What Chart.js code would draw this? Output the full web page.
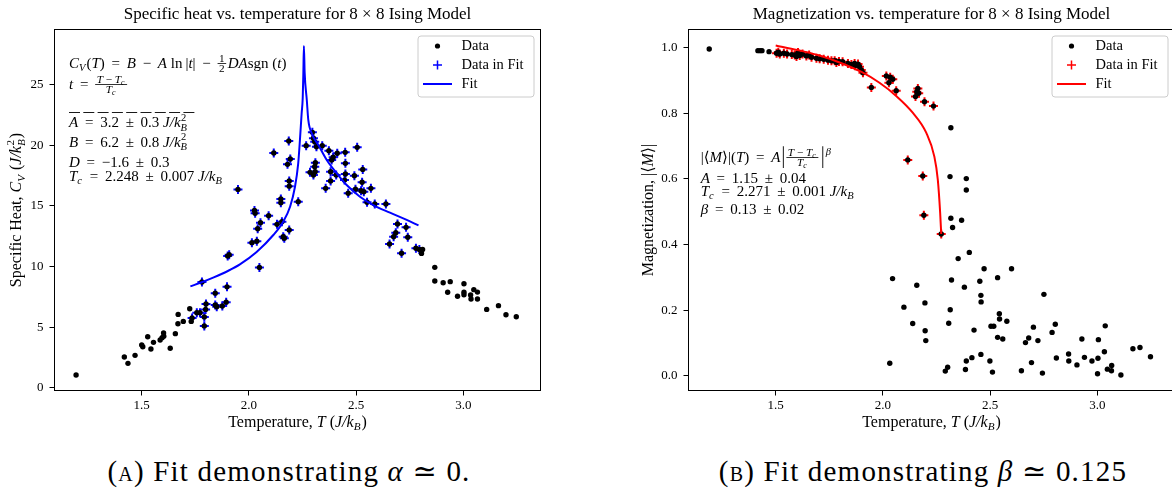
<!DOCTYPE html>
<html>
<head>
<meta charset="UTF-8">
<title>Ising model fits</title>
<script src="https://cdn.jsdelivr.net/npm/chart.js@4.4.1/dist/chart.umd.min.js"></script>
<style>
  html, body { margin: 0; padding: 0; background: #fff; }
  body { width: 1172px; height: 488px; overflow: hidden; position: relative; }
  canvas { position: absolute; top: 0; }
  #cv { left: 0; }
  #mag { left: 634px; }
  .cap { position: absolute; top: 457px; width: 600px; text-align: center;
         font-family: "Liberation Serif", "Times New Roman", "DejaVu Serif", serif;
         font-size: 29px; line-height: 29px; letter-spacing: 1.2px; color: #000; white-space: nowrap; }
  .sc { font-variant: small-caps; }
</style>
</head>
<body>
<canvas id="cv" width="594" height="440"></canvas>
<canvas id="mag" width="594" height="440"></canvas>
<div class="cap" style="left:-11px">(<span class="sc">a</span>) Fit demonstrating <i>α</i> ≃ 0.</div>
<div class="cap" style="left:623px">(<span class="sc">b</span>) Fit demonstrating <i>β</i> ≃ 0.125</div>

<script>
const SERIF = '"Liberation Serif", "DejaVu Serif", serif';
Chart.defaults.font.family = SERIF;
Chart.defaults.color = '#000';

// specific heat: points outside the fit window
const cvOutT = [1.194,1.419,1.436,1.469,1.500,1.505,1.528,1.543,1.555,1.586,
  1.595,1.602,1.603,1.633,1.657,1.670,1.669,1.694,1.724,1.731,
  2.810,2.805,2.867,2.867,2.906,2.939,2.927,2.973,3.003,3.003,
  3.003,3.034,3.036,3.049,3.066,3.066,3.109,3.164,3.199,3.247];
const cvOutC = [1.05,2.53,2.01,2.67,3.52,3.38,4.21,3.19,3.74,3.93,
  4.13,4.51,4.24,3.25,4.46,6.05,5.28,5.47,6.52,5.47,
  11.41,11.08,9.93,8.80,8.66,8.75,7.87,7.54,8.58,7.87,
  7.67,7.65,7.32,8.09,7.89,7.32,6.46,6.77,6.02,5.86];

// specific heat: points used in the fit
const cvInT = [1.735,1.757,1.772,1.781,1.792,1.792,1.798,1.800,1.843,1.843,
  1.850,1.876,1.894,1.898,1.901,1.908,1.949,2.014,2.026,2.029,
  2.037,2.041,2.049,2.054,2.092,2.116,2.131,2.149,2.149,2.154,
  2.160,2.165,2.180,2.186,2.188,2.188,2.188,2.193,2.230,2.267,
  2.285,2.296,2.301,2.301,2.307,2.307,2.310,2.309,2.315,2.342,
  2.358,2.373,2.381,2.381,2.386,2.393,2.407,2.412,2.446,2.449,
  2.450,2.450,2.463,2.492,2.497,2.505,2.523,2.528,2.531,2.536,
  2.551,2.569,2.587,2.639,2.656,2.675,2.685,2.693,2.712,2.733,
  2.741,2.779,2.795];
const cvInC = [5.75,6.19,6.19,8.72,5.84,5.10,6.46,6.90,7.80,6.82,
  6.68,6.74,7.06,8.32,10.86,10.97,16.36,11.97,14.62,14.39,
  12.08,13.12,9.92,13.61,14.19,19.36,13.48,15.57,15.26,13.70,
  12.46,12.33,18.43,20.35,17.05,16.63,13.01,18.87,15.35,19.97,
  17.77,21.07,20.58,17.55,20.30,18.23,18.56,17.82,19.88,19.97,
  16.45,19.55,17.82,17.05,18.79,19.01,17.55,19.34,17.13,19.42,
  18.51,17.63,16.04,17.49,16.37,19.83,16.25,16.95,18.01,16.17,
  15.30,16.45,15.16,15.16,11.86,12.46,12.79,13.51,11.09,13.23,
  12.41,11.50,11.40];

// specific heat fit curve
const cvFitT = [1.727,1.777,1.836,1.904,1.958,2.036,2.114,2.160,2.192,2.215,
  2.230,2.238,2.246,2.251,2.254,2.2565,2.260,2.270,2.277,2.293,
  2.324,2.363,2.410,2.456,2.518,2.580,2.658,2.736,2.791];
const cvFitC = [8.36,8.68,9.10,9.65,10.18,11.2,12.6,13.70,14.93,16.58,
  18.51,20.44,22.64,23.9,26.0,28.2,26.0,23.74,22.09,20.99,
  20.02,18.79,17.69,16.72,15.76,15.07,14.44,13.84,13.39];

// magnetization: points outside the fit window
const mOutT = [1.190,1.417,1.427,1.436,1.469,2.317,2.313,2.389,2.389,2.317,
  2.325,2.367,2.403,2.351,2.045,2.320,2.472,2.600,2.535,2.452,
  2.380,2.158,2.457,2.458,2.751,2.098,2.196,2.314,2.543,2.544,
  2.578,2.139,2.307,2.504,2.517,2.702,2.804,3.037,2.197,2.425,
  2.789,2.200,2.535,2.559,2.665,2.680,2.723,2.928,3.005,2.866,
  2.940,3.033,2.809,3.166,3.199,3.248,2.032,2.415,2.457,2.389,
  2.499,2.693,2.867,2.905,2.975,3.003,2.302,2.291,2.385,2.511,
  2.646,2.744,3.001,3.047,3.067,3.066,3.110];
const mOutM = [0.996,0.991,0.991,0.991,0.988,0.756,0.607,0.601,0.566,0.480,
  0.452,0.474,0.376,0.357,0.296,0.292,0.326,0.326,0.299,0.288,
  0.270,0.276,0.245,0.225,0.248,0.209,0.222,0.201,0.189,0.173,
  0.166,0.159,0.160,0.151,0.151,0.148,0.157,0.152,0.137,0.139,
  0.132,0.107,0.117,0.112,0.101,0.115,0.107,0.112,0.110,0.066,
  0.056,0.073,0.054,0.082,0.086,0.058,0.038,0.055,0.065,0.045,
  0.045,0.040,0.045,0.033,0.045,0.053,0.026,0.014,0.019,0.011,
  0.015,0.008,0.006,0.020,0.031,0.015,0.002];

// magnetization: points used in the fit
const mInT = [1.504,1.512,1.519,1.538,1.553,1.575,1.589,1.597,1.604,1.612,
  1.625,1.643,1.656,1.667,1.690,1.705,1.724,1.744,1.760,1.775,
  1.783,1.795,1.812,1.837,1.853,1.868,1.870,1.884,1.891,1.899,
  1.907,1.946,2.016,2.028,2.034,2.046,2.062,2.116,2.152,2.158,
  2.163,2.167,2.186,2.191,2.194,2.236,2.272];
const mInM = [0.983,0.986,0.981,0.983,0.981,0.979,0.978,0.973,0.985,0.976,
  0.981,0.975,0.978,0.971,0.968,0.966,0.965,0.962,0.960,0.960,
  0.955,0.958,0.957,0.952,0.949,0.952,0.945,0.950,0.942,0.932,
  0.924,0.879,0.914,0.893,0.910,0.904,0.869,0.658,0.851,0.866,
  0.876,0.861,0.609,0.489,0.835,0.822,0.432];

// magnetization fit curve
const mFitT = [1.500,1.600,1.700,1.798,1.900,1.984,2.062,2.139,2.202,2.240,2.256,2.267,2.272];
const mFitM = [1.007,0.993,0.977,0.955,0.926,0.893,0.853,0.802,0.741,0.668,0.598,0.497,0.432];

const tempTicks = [1.5, 2.0, 2.5, 3.0];
const cvTicks = [0, 5, 10, 15, 20, 25];
const magTicks = [0, 0.2, 0.4, 0.6, 0.8, 1.0];

function pts(xs, ys) { return xs.map((x, i) => ({x: x, y: ys[i]})); }

// operator with the wider TeX-like spacing
const op = s => ' \u2009' + s + '\u2009 ';

// tiny math text runner: ['r',txt] roman, ['i',txt] italic, ['_',txt,'i'] sub, ['^',txt,'i'] sup,
// ['_^',sub,sup], ['f',num,den] fraction, ['|'] tall bar
function mathRun(ctx, toks, x, y, size, draw) {
  let cx = x;
  toks.forEach(tk => {
    const k = tk[0];
    if (k === 'r' || k === 'i') {
      ctx.font = (k === 'i' ? 'italic ' : '') + size + 'px ' + SERIF;
      if (draw) ctx.fillText(tk[1], cx, y);
      cx += ctx.measureText(tk[1]).width;
    } else if (k === '_' || k === '^') {
      const s = size * 0.7;
      ctx.font = (tk[2] === 'i' ? 'italic ' : '') + s + 'px ' + SERIF;
      const dy = k === '_' ? size * 0.22 : -size * 0.45;
      if (draw) ctx.fillText(tk[1], cx, y + dy);
      cx += ctx.measureText(tk[1]).width + 1;
    } else if (k === '_^') {
      const s = size * 0.7;
      ctx.font = 'italic ' + s + 'px ' + SERIF;
      const w1 = ctx.measureText(tk[1]).width;
      if (draw) ctx.fillText(tk[1], cx, y + size * 0.25);
      ctx.font = s + 'px ' + SERIF;
      const w2 = ctx.measureText(tk[2]).width;
      if (draw) ctx.fillText(tk[2], cx + 0.5, y - size * 0.42);
      cx += Math.max(w1, w2) + 1;
    } else if (k === 'f') {
      const s = size * 0.75;
      const wn = mathRun(ctx, tk[1], 0, 0, s, false);
      const wd = mathRun(ctx, tk[2], 0, 0, s, false);
      const w = Math.max(wn, wd) + 3;
      const ax = y - size * 0.3;
      if (draw) {
        mathRun(ctx, tk[1], cx + (w - wn) / 2, ax - 2, s, true);
        mathRun(ctx, tk[2], cx + (w - wd) / 2, ax + s * 0.75, s, true);
        ctx.fillRect(cx, ax - 0.4, w, 0.8);
      }
      cx += w + 1.5;
    } else if (k === '|') {
      if (draw) ctx.fillRect(cx + 2.5, y - size * 1.05, 0.9, size * 1.45);
      cx += 6;
    }
  });
  return cx - x;
}

// frame, boxed legend, formula notes and axis titles
function decor(o) {
  return {
    id: 'decor',
    afterDraw(chart) {
      const ctx = chart.ctx, ca = chart.chartArea, ds = chart.data.datasets;
      ctx.save();
      ctx.strokeStyle = '#000';
      ctx.lineWidth = 1;
      ctx.strokeRect(ca.left, ca.top, ca.right - ca.left, ca.bottom - ca.top);

      const lw = 116, lh = 61, lx = ca.right - 6.5 - lw, ly = ca.top + 6.5;
      ctx.fillStyle = 'rgba(255,255,255,0.8)';
      ctx.strokeStyle = '#cccccc';
      ctx.beginPath();
      ctx.roundRect(lx, ly, lw, lh, 3);
      ctx.fill();
      ctx.stroke();
      o.legend.forEach((di, i) => {
        const d = ds[di], cy = ly + 10 + 19 * i, mx = lx + 19.5;
        if (d.showLine) {
          ctx.strokeStyle = d.borderColor; ctx.lineWidth = 2;
          ctx.beginPath(); ctx.moveTo(mx - 14.5, cy); ctx.lineTo(mx + 14.5, cy); ctx.stroke();
        } else if (d.pointStyle === 'cross') {
          ctx.strokeStyle = d.borderColor; ctx.lineWidth = 1.5;
          ctx.beginPath(); ctx.moveTo(mx - 4.5, cy); ctx.lineTo(mx + 4.5, cy);
          ctx.moveTo(mx, cy - 4.5); ctx.lineTo(mx, cy + 4.5); ctx.stroke();
        } else {
          ctx.fillStyle = d.backgroundColor;
          ctx.beginPath(); ctx.arc(mx, cy, 2.6, 0, Math.PI * 2); ctx.fill();
        }
        ctx.fillStyle = '#000';
        ctx.font = '14.5px ' + SERIF;
        ctx.textBaseline = 'middle';
        ctx.fillText(d.label, lx + 43.5, cy);
      });

      ctx.fillStyle = '#000';
      ctx.textBaseline = 'alphabetic';
      ctx.textAlign = 'left';
      o.notes.forEach((ln, i) => mathRun(ctx, ln, ca.left + o.noteX, o.noteY[i], 15, true));
      if (o.dashY) {
        ctx.strokeStyle = '#000'; ctx.lineWidth = 0.9;
        ctx.setLineDash([11, 3.3]);
        ctx.beginPath(); ctx.moveTo(ca.left + o.noteX, o.dashY); ctx.lineTo(ca.left + o.noteX + 128, o.dashY); ctx.stroke();
        ctx.setLineDash([]);
      }

      const wx = mathRun(ctx, o.xTitle, 0, 0, 16, false);
      mathRun(ctx, o.xTitle, (ca.left + ca.right) / 2 - wx / 2, 426.5, 16, true);
      const wy = mathRun(ctx, o.yTitle, 0, 0, 16, false);
      ctx.translate(o.yTitleX, (ca.top + ca.bottom) / 2);
      ctx.rotate(-Math.PI / 2);
      mathRun(ctx, o.yTitle, -wy / 2, 0, 16, true);
      ctx.restore();
    }
  };
}

function options(title, yMin, yMax, yTickVals, yFmt) {
  return {
    responsive: false,
    animation: false,
    devicePixelRatio: 1,
    events: [],
    layout: { padding: { left: 0, right: 53.5, top: 0, bottom: 0 } },
    plugins: {
      legend: { display: false },
      tooltip: { enabled: false },
      title: { display: true, text: title, fullSize: false, color: '#000',
               font: { size: 17, weight: 'normal' }, padding: { top: 4.3, bottom: 4.8 } }
    },
    scales: {
      x: {
        type: 'linear', min: 1.0933, max: 3.360, bounds: 'data',
        afterBuildTicks: s => { s.ticks = tempTicks.map(v => ({ value: v })); },
        afterFit: s => { s.height = 49.5; },
        grid: { drawOnChartArea: false, drawTicks: true, tickLength: 5, color: '#000' },
        border: { display: true, color: '#000', width: 1 },
        ticks: { font: { size: 13 }, color: '#000', padding: 2.6, maxRotation: 0, autoSkip: false,
                 callback: v => v.toFixed(1) }
      },
      y: {
        type: 'linear', min: yMin, max: yMax, bounds: 'data',
        afterBuildTicks: s => { s.ticks = yTickVals.map(v => ({ value: v })); },
        afterFit: s => { s.width = 54.5; },
        grid: { drawOnChartArea: false, drawTicks: true, tickLength: 5, color: '#000' },
        border: { display: true, color: '#000', width: 1 },
        ticks: { font: { size: 13 }, color: '#000', padding: 6, autoSkip: false, callback: yFmt }
      }
    }
  };
}

const xLabel = [['r', 'Temperature, '], ['i', 'T'], ['r', ' ('], ['i', 'J/k'], ['_', 'B', 'i'], ['r', ')']];

new Chart(document.getElementById('cv'), {
  type: 'scatter',
  data: {
    datasets: [
      { label: 'Fit', data: pts(cvFitT, cvFitC), showLine: true, borderColor: '#0000ff', borderWidth: 2,
        pointRadius: 0, cubicInterpolationMode: 'monotone', fill: false },
      { label: 'Data', data: pts(cvOutT.concat(cvInT), cvOutC.concat(cvInC)), pointStyle: 'circle',
        pointRadius: 2.7, backgroundColor: '#000000', borderWidth: 0 },
      { label: 'Data in Fit', data: pts(cvInT, cvInC), pointStyle: 'cross', pointRadius: 4.5,
        borderColor: '#0000ff', borderWidth: 2 }
    ]
  },
  options: options('Specific heat vs. temperature for 8 × 8 Ising Model', -0.231, 29.555, cvTicks, v => String(v)),
  plugins: [decor({
    legend: [1, 2, 0],
    noteX: 14.5,
    noteY: [68, 89, 127, 146.5, 166.5, 180.5],
    dashY: 112.5,
    notes: [
      [['i', 'C'], ['_', 'V', 'i'], ['r', '('], ['i', 'T'], ['r', ')' + op('=')], ['i', 'B'], ['r', op('−')], ['i', 'A'], ['r', ' ln\u2009|'],
       ['i', 't'], ['r', '|' + op('−')], ['f', [['r', '1']], [['r', '2']]], ['i', 'DA'], ['r', 'sgn ('], ['i', 't'], ['r', ')']],
      [['i', 't'], ['r', op('=')], ['f', [['i', 'T'], ['r', ' − '], ['i', 'T'], ['_', 'c', 'i']], [['i', 'T'], ['_', 'c', 'i']]]],
      [['i', 'A'], ['r', op('=') + '3.2' + op('±') + '0.3 '], ['i', 'J/k'], ['_^', 'B', '2']],
      [['i', 'B'], ['r', op('=') + '6.2' + op('±') + '0.8 '], ['i', 'J/k'], ['_^', 'B', '2']],
      [['i', 'D'], ['r', op('=') + '−1.6' + op('±') + '0.3']],
      [['i', 'T'], ['_', 'c', 'i'], ['r', op('=') + '2.248' + op('±') + '0.007 '], ['i', 'J/k'], ['_', 'B', 'i']]
    ],
    xTitle: xLabel,
    yTitle: [['r', 'Specific Heat, '], ['i', 'C'], ['_', 'V', 'i'], ['r', ' ('], ['i', 'J/k'], ['_^', 'B', '2'], ['r', ')']],
    yTitleX: 21
  })]
});

new Chart(document.getElementById('mag'), {
  type: 'scatter',
  data: {
    datasets: [
      { label: 'Fit', data: pts(mFitT, mFitM), showLine: true, borderColor: '#ff0000', borderWidth: 2,
        pointRadius: 0, cubicInterpolationMode: 'monotone', fill: false },
      { label: 'Data', data: pts(mOutT.concat(mInT), mOutM.concat(mInM)), pointStyle: 'circle',
        pointRadius: 2.7, backgroundColor: '#000000', borderWidth: 0 },
      { label: 'Data in Fit', data: pts(mInT, mInM), pointStyle: 'cross', pointRadius: 4.5,
        borderColor: '#ff0000', borderWidth: 2 }
    ]
  },
  options: options('Magnetization vs. temperature for 8 × 8 Ising Model', -0.0451, 1.0555, magTicks, v => v.toFixed(1)),
  plugins: [decor({
    legend: [1, 2, 0],
    noteX: 12.2,
    noteY: [162, 182.5, 195.7, 214],
    notes: [
      [['r', '|⟨'], ['i', 'M'], ['r', '⟩|('], ['i', 'T'], ['r', ')' + op('=')], ['i', 'A'], ['|'],
       ['f', [['i', 'T'], ['r', ' − '], ['i', 'T'], ['_', 'c', 'i']], [['i', 'T'], ['_', 'c', 'i']]], ['|'], ['^', 'β', 'i']],
      [['i', 'A'], ['r', op('=') + '1.15' + op('±') + '0.04']],
      [['i', 'T'], ['_', 'c', 'i'], ['r', op('=') + '2.271' + op('±') + '0.001 '], ['i', 'J/k'], ['_', 'B', 'i']],
      [['i', 'β'], ['r', op('=') + '0.13' + op('±') + '0.02']]
    ],
    xTitle: xLabel,
    yTitle: [['r', 'Magnetization, |⟨'], ['i', 'M'], ['r', '⟩|']],
    yTitleX: 19
  })]
});
</script>
</body>
</html>
